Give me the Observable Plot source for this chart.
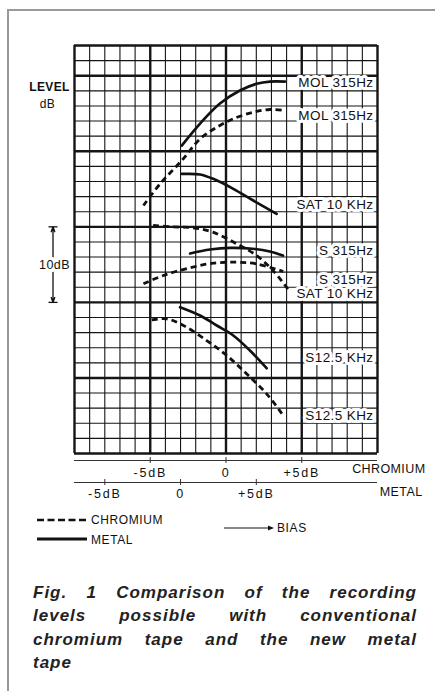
<!DOCTYPE html>
<html>
<head>
<meta charset="utf-8">
<script src="https://cdn.jsdelivr.net/npm/d3@7"></script>
<script src="https://cdn.jsdelivr.net/npm/@observablehq/plot@0.6"></script>
<style>
  body { margin: 0; background: #fff; }
  #wrap { position: relative; width: 435px; height: 691px; overflow: hidden; background: #fff; font-family: "Liberation Sans", Arial, sans-serif; color: #111; }
  #chart { position: absolute; left: 0; top: 0; }
  .frame { position: absolute; left: 7px; top: 9px; width: 460px; height: 720px; border-top: 2px solid #999; border-left: 2px solid #999; pointer-events: none; }
  .lg { position: absolute; font-size: 12px; line-height: 14px; letter-spacing: 0.6px; white-space: nowrap; }
  .cap { position: absolute; left: 33px; top: 581px; width: 384px; font-style: italic; font-weight: bold; font-size: 17px; line-height: 23.3px; letter-spacing: 1px; color: #222; }
  .cap div { text-align: justify; text-align-last: justify; white-space: nowrap; }
  .cap div.last { text-align: left; text-align-last: left; }
</style>
</head>
<body>
<div id="wrap">
  <div id="chart"></div>
  <svg style="position:absolute;left:37px;top:516px" width="52" height="8"><line x1="0" y1="4" x2="50" y2="4" stroke="#111" stroke-width="2.6" stroke-dasharray="7 3.5"/></svg>
  <div class="lg" style="left:91px;top:513px">CHROMIUM</div>
  <svg style="position:absolute;left:37px;top:535px" width="52" height="8"><line x1="0" y1="4" x2="50" y2="4" stroke="#111" stroke-width="3"/></svg>
  <div class="lg" style="left:91px;top:533px">METAL</div>
  <svg style="position:absolute;left:224px;top:523px" width="52" height="10"><line x1="0" y1="5" x2="46" y2="5" stroke="#111" stroke-width="1.2"/><polygon points="44,2.5 50,5 44,7.5" fill="#111"/></svg>
  <div class="lg" style="left:277px;top:521px">BIAS</div>
  <div class="cap">
    <div>Fig. 1 Comparison of the recording</div>
    <div>levels possible with conventional</div>
    <div>chromium tape and the new metal</div>
    <div class="last">tape</div>
  </div>
  <div class="frame"></div>
</div>
<script>
// Bias axis (x): chromium bias in dB; metal bias = chromium bias + metalOffset
const chromTicks = [-5, 0, 5];
const chromTickLabels = ["-5dB", "0", "+5dB"];
const metalTicks = [-5, 0, 5];
const metalTickLabels = ["-5dB", "0", "+5dB"];
const metalOffset = 3;

// grid: 1 dB per column (x), 2 dB per row (y)
const xGrid = d3.range(-10, 11, 1);
const yGrid = d3.range(0, 55, 2);

// level curves [chromium-axis bias dB, level dB]
const molMetal  = [[-2.92,40.76],[-1.71,43.67],[-0.40,46.32],[0.92,48.04],[2.02,48.93],[2.90,49.23],[3.89,49.23]];
const molChrom  = [[-5.45,32.82],[-4.35,35.69],[-2.92,38.78],[-1.71,41.65],[-0.61,43.18],[0.48,44.30],[1.80,45.17],[2.90,45.53],[3.89,45.39]];
const satMetal  = [[-2.92,37.0],[-1.71,36.93],[-0.84,36.35],[0.48,35.03],[1.80,33.48],[3.34,31.72]];
const satChrom  = [[-4.81,30.18],[-3.47,30.0],[-2.18,29.87],[-0.86,29.29],[0.71,27.75],[2.02,26.2],[3.10,24.22],[4.22,21.4]];
const s315Metal = [[-2.37,26.47],[-1.05,27.0],[0.26,27.22],[1.91,27.07],[2.90,26.73],[3.76,26.2]];
const s315Chrom = [[-5.45,22.46],[-4.13,23.56],[-2.37,24.58],[-0.84,25.19],[0.71,25.32],[2.02,25.1],[3.78,24.09]];
const s125Metal = [[-3.03,19.36],[-1.71,18.26],[-0.61,16.94],[0.48,15.62],[1.58,13.63],[2.68,11.29]];
const s125Chrom = [[-4.90,17.69],[-3.91,17.82],[-2.81,16.94],[-1.27,14.95],[0.05,12.97],[1.36,10.55],[2.68,7.9],[3.78,5.03]];

// curve labels at the right edge
const curveLabels = ["MOL 315Hz", "MOL 315Hz", "SAT 10 KHz", "S 315Hz", "S 315Hz", "SAT 10 KHz", "S12.5 KHz", "S12.5 KHz"];
const labelLevels = [49.06, 44.73, 32.95, 26.86, 22.95, 21.1, 12.74, 5.03];

// 10 dB scale bracket
const bracketTop = 30, bracketBottom = 20;

const series = [
  {tape: "metal", pts: molMetal}, {tape: "chromium", pts: molChrom},
  {tape: "metal", pts: satMetal}, {tape: "chromium", pts: satChrom},
  {tape: "metal", pts: s315Metal}, {tape: "chromium", pts: s315Chrom},
  {tape: "metal", pts: s125Metal}, {tape: "chromium", pts: s125Chrom}
];
const rows = series.flatMap((s, i) => s.pts.map(([x, y]) => ({x, y, tape: s.tape, id: i})));
const labelRows = curveLabels.map((label, i) => ({label, y: labelLevels[i]}));
const bracketMid = (bracketTop + bracketBottom) / 2;

const hbar = {draw(ctx, size) { const r = Math.sqrt(size / Math.PI); ctx.moveTo(-r, 0); ctx.lineTo(r, 0); }};
const ink = "#111";

const plot = Plot.plot({
  width: 435,
  height: 505,
  marginLeft: 74,
  marginRight: 58,
  marginTop: 45,
  marginBottom: 52,
  x: {domain: [-10, 10], label: null},
  y: {domain: [0, 54], axis: null},
  style: {fontFamily: "'Liberation Sans', Arial, sans-serif", background: "none", color: ink, letterSpacing: "0.4px", overflow: "visible"},
  marks: [
    Plot.ruleX(xGrid, {stroke: "#151515", strokeWidth: d => d % 5 === 0 ? 2.4 : 1.1}),
    Plot.ruleY(yGrid, {stroke: "#151515", strokeWidth: d => (d % 10 === 0 || d === 54) ? 2.4 : 1.1}),
    Plot.line(rows.filter(d => d.tape === "metal"), {x: "x", y: "y", z: "id", stroke: ink, strokeWidth: 2.7, curve: "catmull-rom"}),
    Plot.line(rows.filter(d => d.tape === "chromium"), {x: "x", y: "y", z: "id", stroke: ink, strokeWidth: 2.8, strokeDasharray: "6 4", strokeLinecap: "butt", curve: "catmull-rom"}),
    Plot.text(labelRows, {frameAnchor: "right", y: "y", text: "label", dx: -4, textAnchor: "end", fontSize: 13.5, fill: ink, stroke: "white", strokeWidth: 6}),
    // bias axes
    Plot.ruleY([0], {dy: 7, stroke: "#333", strokeWidth: 1.2}),
    Plot.axisX({ticks: chromTicks, tickFormat: d => chromTickLabels[chromTicks.indexOf(d)], label: null, tickSize: 6, dy: 4, tickPadding: 5, fontSize: 12.5, stroke: "#333"}),
    Plot.ruleY([0], {dy: 29, stroke: "#333", strokeWidth: 1.2}),
    Plot.axisX(metalTicks.map(m => m - metalOffset), {tickFormat: d => metalTickLabels[metalTicks.indexOf(d + metalOffset)], label: null, tickSize: 6, dy: 26, tickPadding: 4, fontSize: 12.5, stroke: "#333"}),
    Plot.text(["CHROMIUM"], {text: d => d, frameAnchor: "bottom-right", dx: 48, dy: 19.5, textAnchor: "end", fontSize: 12.5}),
    Plot.text(["METAL"], {text: d => d, frameAnchor: "bottom-right", dx: 45, dy: 42, textAnchor: "end", fontSize: 12.5}),
    // level axis title
    Plot.text(["LEVEL"], {text: d => d, frameAnchor: "top-left", dx: -25, dy: 37, textAnchor: "middle", fontSize: 12, fontWeight: "bold"}),
    Plot.text(["dB"], {text: d => d, frameAnchor: "top-left", dx: -27, dy: 54, textAnchor: "middle", fontSize: 12}),
    // 10 dB bracket
    Plot.arrow([{y1: bracketMid, y2: bracketTop}, {y1: bracketMid, y2: bracketBottom}], {x1: -10, x2: -10, y1: "y1", y2: "y2", dx: -21.5, headLength: 6, headAngle: 40, stroke: ink, strokeWidth: 1.3}),
    Plot.dot([bracketTop, bracketBottom], {x: -10, y: d => d, dx: -21.5, r: 4.5, symbol: hbar, stroke: ink, strokeWidth: 1.3, fill: "none"}),
    Plot.text([bracketMid], {x: -10, y: d => d, dx: -20, text: () => "10dB", fontSize: 12.5, fill: ink, stroke: "white", strokeWidth: 7})
  ]
});
document.getElementById("chart").appendChild(plot);
d3.select(plot).selectAll('g[aria-label="x-axis tick label"] text').style("letter-spacing", "1.8px");
</script>
</body>
</html>
